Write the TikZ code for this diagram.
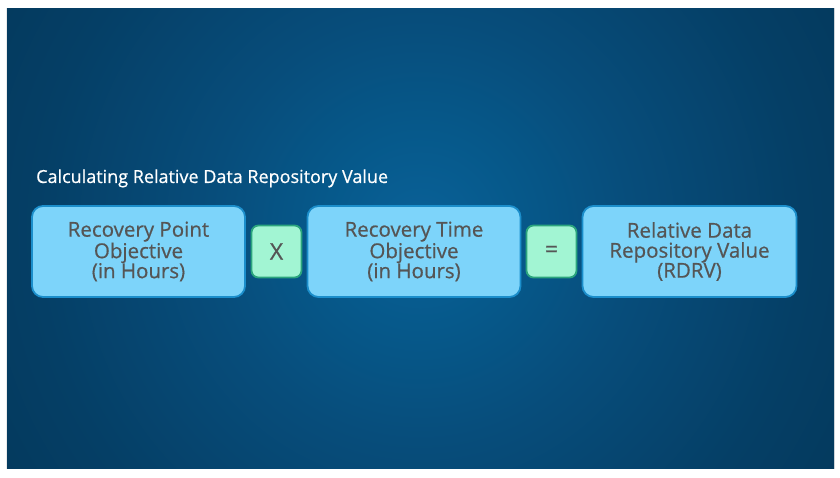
\documentclass[tikz,border=0pt]{standalone}
\usepackage{fontspec}
\setmainfont{Open Sans}
\newfontfamily\slidefont{Open Sans}[FakeBold=0.6]
\usepackage{tikz}
\usetikzlibrary{positioning}
\definecolor{slidedark}{HTML}{043A5E}
\definecolor{slideedge}{HTML}{053F66}
\definecolor{slideblue}{HTML}{074D7B}
\definecolor{slidemid}{HTML}{06598B}
\definecolor{slidecore}{HTML}{0A6198}
\definecolor{termfill}{HTML}{7DD4FA}
\definecolor{termline}{HTML}{1B8ECB}
\definecolor{opfill}{HTML}{A2F5D3}
\definecolor{opline}{HTML}{2BA57D}
\definecolor{termtext}{HTML}{555555}
\pgfdeclareradialshading{slideglow}{\pgfpoint{0bp}{0bp}}{color(0bp)=(slidecore); color(5bp)=(slidemid); color(11bp)=(slideblue); color(20bp)=(slideedge); color(25bp)=(slidedark); color(50bp)=(slidedark)}

\begin{document}
\begin{tikzpicture}[
  x=1pt, y=-1pt,
  term/.style={draw=termline, fill=termfill, line width=1.8pt, rounded corners=11pt,
               minimum width=213pt, minimum height=91pt, align=center, outer sep=0pt,
               text=termtext, font=\slidefont\fontsize{20.5}{20}\selectfont, inner sep=2pt},
  op/.style={draw=opline, fill=opfill, line width=1.8pt, rounded corners=7pt,
             minimum width=50pt, minimum height=52pt, outer sep=0pt,
             text=termtext, font=\slidefont\fontsize{23}{23}\selectfont}
]
\useasboundingbox (0,0) rectangle (840,478);
\fill[white] (0,0) rectangle (840,478);
\draw[black!8, line width=2pt] (7,9) rectangle (834,468);

% slide background
\begin{scope}
  \clip (7,9) rectangle (834,468);
  \shade[shading=slideglow] (420,230) circle (480);
\end{scope}

\node[anchor=base west, text=white, font=\slidefont\fontsize{18}{18}\selectfont, inner sep=0pt]
  (title) at (36,183) {Calculating Relative Data Repository Value};

\node[term] (rpo) at (138.5,251.5) {Recovery Point\\Objective\\(in Hours)};
\node[op, right=6.5pt of rpo] (times) {X};
\node[term, right=6pt of times] (rto) {Recovery Time\\Objective\\(in Hours)};
\node[op, right=6pt of rto] (equals) {=};
\node[term, right=6pt of equals, minimum width=214pt] (rdrv) {Relative Data\\Repository Value\\(RDRV)};
\end{tikzpicture}
\end{document}
